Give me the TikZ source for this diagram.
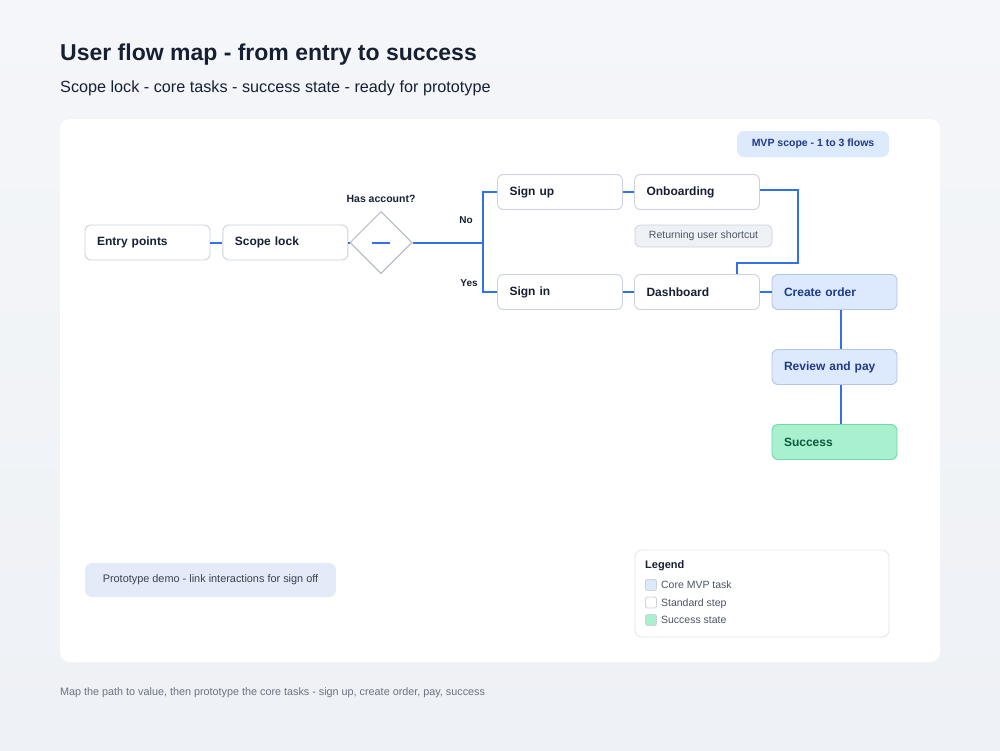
\documentclass[tikz,border=0pt]{standalone}
\usepackage{fontspec}
\setmainfont{Liberation Sans}
\usetikzlibrary{positioning,calc,shapes.geometric}
\definecolor{ink}{HTML}{172033}
\definecolor{inksec}{HTML}{4B5563}
\definecolor{muted}{HTML}{6B7280}
\definecolor{edge}{HTML}{CBD2DC}
\definecolor{flowblue}{HTML}{3370EE}
\definecolor{corefill}{HTML}{DDE9FC}
\definecolor{coreedge}{HTML}{B4C6E4}
\definecolor{coreink}{HTML}{1E3A8A}
\definecolor{okfill}{HTML}{A8F0CE}
\definecolor{okedge}{HTML}{6CD9A6}
\definecolor{okink}{HTML}{0B5A3E}
\definecolor{notefill}{HTML}{EEF2F7}
\definecolor{demofill}{HTML}{E3EAF8}
\definecolor{bgtop}{HTML}{F4F6F9}
\definecolor{bgbot}{HTML}{EEF1F5}
\begin{document}
\begin{tikzpicture}[x=1pt,y=-1pt,font=\fontsize{12}{14}\selectfont,node distance=12pt,
  stepbox/.style={draw=edge,fill=white,rounded corners=6pt,line width=0.9pt,text width=101pt,
    minimum height=35pt,inner xsep=12pt,align=left,text=ink,font=\fontsize{12}{14}\selectfont\bfseries},
  corebox/.style={stepbox,draw=coreedge,fill=corefill,text=coreink},
  okbox/.style={stepbox,draw=okedge,fill=okfill,text=okink},
  flow/.style={draw=flowblue,line width=2pt},
  swatch/.style={draw=edge,rounded corners=2pt,line width=0.8pt,minimum size=11pt,inner sep=0pt}]
% page and card
\shade[top color=bgtop,bottom color=bgbot] (0,0) rectangle (1000,750);
\useasboundingbox (0,0) rectangle (1000,750);
\fill[white,rounded corners=10pt] (60,119) rectangle (940,662);
\node[anchor=base west,inner sep=0pt,text=ink,font=\fontsize{23}{26}\selectfont\bfseries] (title) at (60,60) {User flow map - from entry to success};
\node[anchor=base west,inner sep=0pt,text=ink,font=\fontsize{16.2}{19}\selectfont] (subtitle) at (60,92) {Scope lock - core tasks - success state - ready for prototype};
\node[anchor=base west,inner sep=0pt,text=muted,font=\fontsize{10.8}{13}\selectfont] (footer) at (60,695) {Map the path to value, then prototype the core tasks - sign up, create order, pay, success};
% flow nodes
\node[stepbox] (entry) at (147.5,242.5) {Entry points};
\node[stepbox,right=of entry] (scope) {Scope lock};
\node[diamond,draw=edge!80!inksec,line width=1pt,fill=white,minimum width=62pt,minimum height=62pt,inner sep=0pt] (dec) at (381,242.5) {};
\draw[flow] ($(dec.center)+(-9,0)$) -- ($(dec.center)+(9,0)$);
\node[font=\fontsize{10.5}{12}\selectfont\bfseries,text=ink] (ask) at (381,199) {Has account?};
\node[stepbox] (signup) at (560,192) {Sign up};
\node[stepbox] (onboard) at (697,192) {Onboarding};
\node[stepbox] (signin) at (560,292) {Sign in};
\node[stepbox] (dash) at (697,292) {Dashboard};
\node[corebox] (create) at (834.5,292) {Create order};
\node[corebox] (review) at (834.5,367) {Review and pay};
\node[okbox] (success) at (834.5,442) {Success};
\node[draw=edge,fill=notefill,rounded corners=6pt,line width=0.8pt,minimum width=137pt,minimum height=22pt,
  text=inksec,font=\fontsize{10.5}{12}\selectfont] (shortcut) at (703.5,236) {Returning user shortcut};
\node[font=\fontsize{10}{12}\selectfont\bfseries,text=ink] (no) at (466,220) {No};
\node[font=\fontsize{10}{12}\selectfont\bfseries,text=ink] (yes) at (469,283) {Yes};
% connectors
\coordinate (split) at (484,242.5);
\draw[flow] (entry) -- (scope);
\draw[flow] (scope) -- (dec);
\draw[flow] (dec.east) -- (split);
\draw[flow] (signup.west) -- ++(-14,0) |- (signin.west);
\draw[flow] (signup) -- (onboard);
\draw[flow] (signin) -- (dash);
\draw[flow] ($(onboard.east)+(0,-2)$) -- ++(38,0) |- ($(dash.north)+(40,-11)$) -- ($(dash.north)+(40,0)$);
\draw[flow] (dash) -- (create);
\draw[flow] ($(create.south)+(6,0)$) -- ($(review.north)+(6,0)$);
\draw[flow] ($(review.south)+(6,0)$) -- ($(success.north)+(6,0)$);
% badges
\node[fill=corefill,rounded corners=7pt,minimum width=152pt,minimum height=26pt,text=coreink,
  font=\fontsize{10.5}{12}\selectfont\bfseries] (mvp) at (813,144) {MVP scope - 1 to 3 flows};
\node[fill=demofill,rounded corners=7pt,minimum width=251pt,minimum height=34pt,text=ink!85,
  font=\fontsize{10.9}{13}\selectfont] (demo) at (210.5,580) {Prototype demo - link interactions for sign off};
% legend
\node[draw=edge!60,fill=white,rounded corners=7pt,line width=0.8pt,minimum width=254pt,minimum height=87pt] (legend) at (762,593.5) {};
\node[anchor=west,inner sep=0pt,text=ink,font=\fontsize{11}{13}\selectfont\bfseries] (legtitle) at (645,565.5) {Legend};
\foreach \y/\c/\l [count=\i] in {585/corefill/Core MVP task,602.5/white/Standard step,620/okfill/Success state} {
  \node[swatch,fill=\c] (sw\i) at (651,\y) {};
  \node[right=4pt of sw\i,inner sep=0pt,text height=7.6pt,text depth=0pt,text=inksec,font=\fontsize{10.5}{12}\selectfont] (lab\i) {\l};
}
\end{tikzpicture}
\end{document}
